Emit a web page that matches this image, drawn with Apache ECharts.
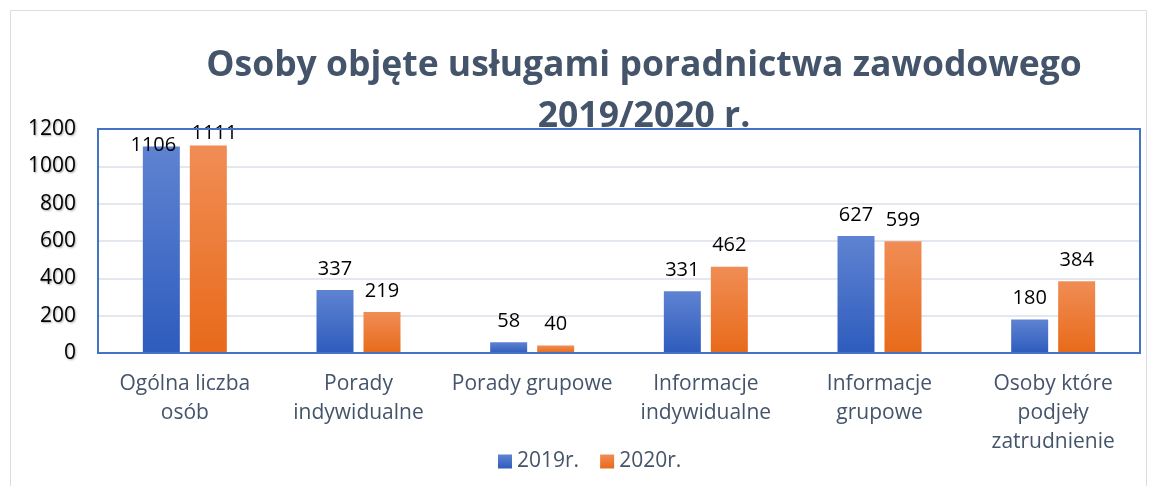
<!DOCTYPE html>
<html lang="pl">
<head>
  <meta charset="UTF-8">
  <title>Osoby objęte usługami poradnictwa zawodowego</title>
  <style>
    html, body { margin: 0; padding: 0; background: #fff; }
    #chart { width: 1151px; height: 486px; }
  </style>
  <script src="https://cdn.jsdelivr.net/npm/echarts@6/dist/echarts.min.js"></script>
</head>
<body>
<div id="chart"></div>
<script>
  // dane
  var categories = ['Ogólna liczba\nosób', 'Porady\nindywidualne', 'Porady grupowe',
    'Informacje\nindywidualne', 'Informacje\ngrupowe', 'Osoby które\npodjeły\nzatrudnienie'];
  var seriesNames = ['2019r.', '2020r.'];
  var values2019 = [1106, 337, 58, 331, 627, 180];
  var values2020 = [1111, 219, 40, 462, 599, 384];
  var yTicks = [0, 200, 400, 600, 800, 1000, 1200];

  var font = '"Open Sans", sans-serif';
  var myChart = echarts.init(document.getElementById('chart'));

  function grad(top, bottom) {
    return new echarts.graphic.LinearGradient(0, 0, 0, 1, [
      { offset: 0, color: top },
      { offset: 1, color: bottom }
    ]);
  }

  // etykiety przy górnej krawędzi wykresu są przesunięte w dół
  function withLabels(vals, firstOffset) {
    return vals.map(function (v, i) {
      if (i === 0) return { value: v, label: { offset: firstOffset } };
      return v;
    });
  }

  var labelStyle = {
    show: true,
    position: 'top',
    distance: 11,
    color: '#000',
    fontSize: 20,
    fontFamily: font
  };

  var option = {
    animation: false,
    graphic: [{
      type: 'rect',
      shape: { x: 10.5, y: 10.5, width: 1136, height: 480 },
      style: { fill: 'none', stroke: '#d9dee6', lineWidth: 1 }
    }, {
      type: 'rect',
      shape: { x: 98, y: 129, width: 1042, height: 224 },
      style: { fill: 'none', stroke: '#4472c4', lineWidth: 2 },
      z: 10
    }],
    title: {
      text: 'Osoby objęte usługami poradnictwa zawodowego\n2019/2020 r.',
      left: 639,
      textAlign: 'center',
      top: 35,
      textStyle: {
        fontFamily: font,
        fontWeight: 'bold',
        fontSize: 35.5,
        lineHeight: 51,
        color: '#44546a'
      }
    },
    legend: {
      data: seriesNames,
      left: 493,
      top: 446,
      itemWidth: 14,
      itemHeight: 14,
      itemGap: 21,
      icon: 'rect',
      textStyle: { fontFamily: font, fontSize: 21, color: '#44546a' }
    },
    grid: { left: 98, right: 11, top: 129, bottom: 133 },
    xAxis: {
      type: 'category',
      data: categories,
      axisLine: { show: false },
      axisTick: { show: false },
      axisLabel: {
        interval: 0,
        margin: 17,
        fontFamily: font,
        fontSize: 21,
        lineHeight: 29,
        color: '#44546a'
      }
    },
    yAxis: {
      type: 'value',
      min: yTicks[0],
      max: yTicks[yTicks.length - 1],
      interval: 200,
      axisLabel: {
        margin: 22,
        formatter: function (v) { return String(v); },
        fontFamily: font,
        fontSize: 21,
        color: '#000',
        textShadowColor: 'rgba(0,0,0,0.35)',
        textShadowBlur: 2,
        textShadowOffsetX: 1,
        textShadowOffsetY: 1
      },
      splitLine: { lineStyle: { color: '#e3e7ee', width: 2 } }
    },
    series: [{
      name: seriesNames[0],
      type: 'bar',
      barWidth: 37,
      barGap: '27%',
      itemStyle: { color: grad('#5f83d2', '#2e5cbd') },
      label: labelStyle,
      data: withLabels(values2019, [-8, 20])
    }, {
      name: seriesNames[1],
      type: 'bar',
      barWidth: 37,
      itemStyle: { color: grad('#f08d55', '#e86a1a') },
      label: labelStyle,
      data: withLabels(values2020, [6, 9])
    }],
    color: ['#4472c4', '#ed7d31']
  };

  myChart.setOption(option);
</script>
</body>
</html>
